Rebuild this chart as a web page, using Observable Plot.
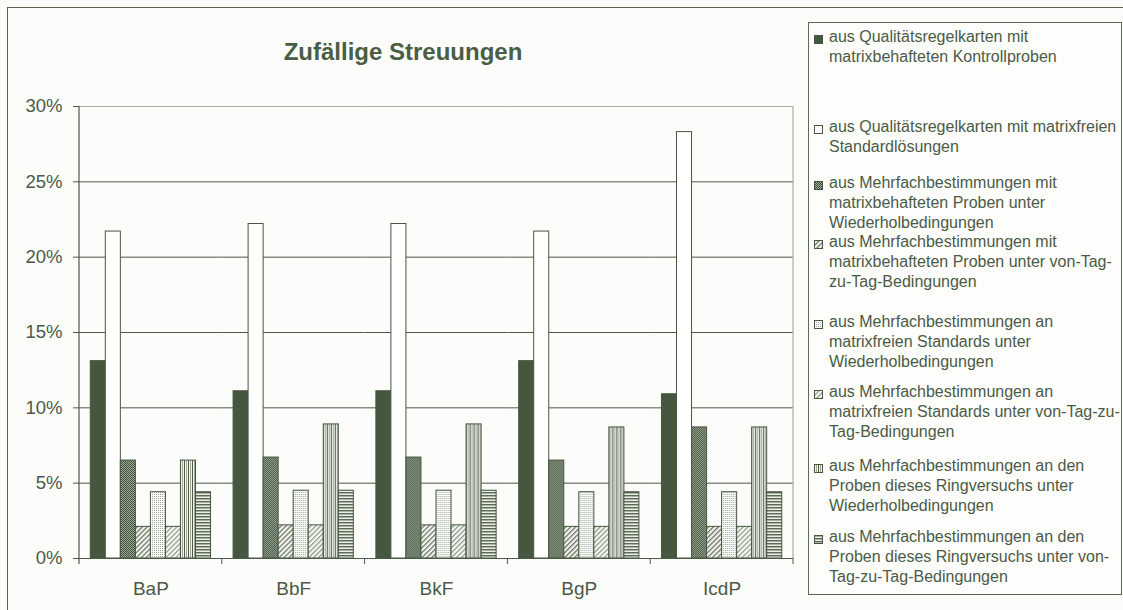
<!DOCTYPE html>
<html><head><meta charset="utf-8">
<script src="https://cdn.jsdelivr.net/npm/d3@7"></script>
<script src="https://cdn.jsdelivr.net/npm/@observablehq/plot@0.6"></script>
<style>
body{margin:0;background:#fcfcfa;font-family:"Liberation Sans",Arial,sans-serif;color:#4b5a47}
#wrap{position:relative;width:1123px;height:610px;overflow:hidden;background:#fcfcfa}
#frame{position:absolute;left:7px;top:7px;width:1200px;height:700px;border:1px solid #56654f;box-sizing:border-box}
#title{position:absolute;left:0;width:806px;top:37px;line-height:30px;text-align:center;font-weight:bold;font-size:24px;color:#4a5d45}
#legend{position:absolute;left:808px;top:22px;width:314px;height:573px;border:1px solid #5a6a55;box-sizing:border-box;background:#fdfdfb}
.entry{position:absolute;left:5px;font-size:16px;line-height:20px;white-space:nowrap;color:#4b5a47}
.entry svg{position:absolute;left:0;top:8px}
.entry .txt{position:absolute;left:15px;top:0}
#plot{position:absolute;left:0;top:0}
</style></head>
<body>
<svg width="0" height="0" style="position:absolute">
  <defs>
    <pattern id="pat2" width="2" height="2" patternUnits="userSpaceOnUse">
      <rect width="2" height="2" fill="#a3ac9d"/><rect width="1" height="1" fill="#3e4f39"/><rect x="1" y="1" width="1" height="1" fill="#3e4f39"/>
    </pattern>
    <pattern id="pat3" width="3.5" height="4" patternUnits="userSpaceOnUse" patternTransform="rotate(45)">
      <rect width="3.5" height="4" fill="#f4f5f1"/><rect width="1.3" height="4" fill="#6a7864"/>
    </pattern>
    <pattern id="pat4" width="2" height="2" patternUnits="userSpaceOnUse">
      <rect width="2" height="2" fill="#fbfbf9"/><rect width="1" height="1" fill="#a0a89a"/>
    </pattern>
    <pattern id="pat5" width="3.5" height="4" patternUnits="userSpaceOnUse" patternTransform="rotate(45)">
      <rect width="3.5" height="4" fill="#f7f8f5"/><rect width="1.2" height="4" fill="#8a9684"/>
    </pattern>
    <pattern id="pat6" width="4" height="4" patternUnits="userSpaceOnUse">
      <rect width="4" height="4" fill="#f2f3ef"/><rect width="1" height="4" fill="#4d5d48"/><rect x="2" width="1" height="4" fill="#a0a89a"/>
    </pattern>
    <pattern id="pat7" width="4" height="3" patternUnits="userSpaceOnUse">
      <rect width="4" height="3" fill="#eceee8"/><rect width="4" height="1" fill="#5c6b56"/><rect y="1" width="4" height="1" fill="#aab1a4"/>
    </pattern>
  </defs>
</svg>
<div id="wrap">
  <div id="frame"></div>
  <div id="title">Zufällige Streuungen</div>
  <div id="plot"></div>
  <div id="legend"></div>
</div>
<script>
// ---- data ----
const categories = ["BaP", "BbF", "BkF", "BgP", "IcdP"];
const seriesKeys = ["s1", "s2", "s3", "s4", "s5", "s6", "s7", "s8"];
const seriesLabels = [
  ["aus Qualitätsregelkarten mit", "matrixbehafteten Kontrollproben"],
  ["aus Qualitätsregelkarten mit matrixfreien", "Standardlösungen"],
  ["aus Mehrfachbestimmungen mit", "matrixbehafteten Proben unter", "Wiederholbedingungen"],
  ["aus Mehrfachbestimmungen mit", "matrixbehafteten Proben unter von-Tag-", "zu-Tag-Bedingungen"],
  ["aus Mehrfachbestimmungen an", "matrixfreien Standards unter", "Wiederholbedingungen"],
  ["aus Mehrfachbestimmungen an", "matrixfreien Standards unter von-Tag-zu-", "Tag-Bedingungen"],
  ["aus Mehrfachbestimmungen an den", "Proben dieses Ringversuchs unter", "Wiederholbedingungen"],
  ["aus Mehrfachbestimmungen an den", "Proben dieses Ringversuchs unter von-", "Tag-zu-Tag-Bedingungen"]
];
const s1 = [13.1, 11.1, 11.1, 13.1, 10.9];
const s2 = [21.7, 22.2, 22.2, 21.7, 28.3];
const s3 = [6.5, 6.7, 6.7, 6.5, 8.7];
const s4 = [2.1, 2.2, 2.2, 2.1, 2.1];
const s5 = [4.4, 4.5, 4.5, 4.4, 4.4];
const s6 = [2.1, 2.2, 2.2, 2.1, 2.1];
const s7 = [6.5, 8.9, 8.9, 8.7, 8.7];
const s8 = [4.4, 4.5, 4.5, 4.4, 4.4];
const yTicks = [0, 5, 10, 15, 20, 25, 30];

// ---- styles ----
const seriesValues = [s1, s2, s3, s4, s5, s6, s7, s8];
const fills = ["#46573f", "#ffffff", "url(#pat2)", "url(#pat3)", "url(#pat4)", "url(#pat5)", "url(#pat6)", "url(#pat7)"];
const ink = "#4b5a47";
const barStroke = "#46573f";
const light = "#a9ad98";
const legendTops = [37, 127, 183, 242, 322, 392, 466, 537];

const data = categories.flatMap((c, i) => seriesKeys.map((k, j) => ({cat: c, ser: k, value: seriesValues[j][i]})));

const plot = Plot.plot({
  width: 800, height: 605,
  marginLeft: 79, marginRight: 7, marginTop: 106, marginBottom: 47,
  style: {background: "transparent", fontFamily: "'Liberation Sans', Arial, sans-serif", color: ink, overflow: "visible"},
  fx: {domain: categories, padding: 0, round: false, label: null, axis: null},
  x: {domain: seriesKeys, paddingInner: 0, paddingOuter: 0.75, round: false, axis: null},
  y: {domain: [0, 30], label: null, axis: null},
  marks: [
    Plot.ruleY(yTicks.filter(t => t > 0 && t < 30), {stroke: ink, strokeWidth: 1}),
    Plot.ruleY([30], {stroke: light, strokeWidth: 1.2}),
    ...seriesKeys.map((k, j) => Plot.barY(data.filter(d => d.ser === k), {
      fx: "cat", x: "ser", y: "value", fill: fills[j], stroke: barStroke, strokeWidth: 1, inset: 0
    })),
    Plot.ruleY([0], {stroke: ink, strokeWidth: 1.2}),
    Plot.axisY(yTicks, {anchor: "left", tickSize: 6, tickPadding: 11, tickFormat: d => d + "%", fontSize: 18.5, label: null, stroke: ink}),
    Plot.axisFx({anchor: "bottom", tickSize: 0, tickPadding: 23, fontSize: 19, label: null})
  ]
});
document.getElementById("plot").appendChild(plot);

// frame lines and category separator ticks from the library's scales
const fx = plot.scale("fx");
const y = plot.scale("y");
const svg = d3.select(plot);
const y0 = y.apply(0), yTop = y.apply(30);
const edges = categories.map(c => fx.apply(c));
const xEnd = fx.apply(categories[categories.length - 1]) + fx.bandwidth;
edges.push(xEnd);
const g = svg.append("g");
g.append("line").attr("x1", xEnd).attr("x2", xEnd).attr("y1", yTop).attr("y2", y0).attr("stroke", light).attr("stroke-width", 1.2);
g.append("line").attr("x1", edges[0]).attr("x2", edges[0]).attr("y1", yTop).attr("y2", y0 + 6).attr("stroke", ink).attr("stroke-width", 1.2);
g.selectAll("line.sep").data(edges.slice(1)).join("line").attr("class", "sep")
  .attr("x1", d => d).attr("x2", d => d).attr("y1", y0).attr("y2", y0 + 6).attr("stroke", ink).attr("stroke-width", 1);

// legend
const legend = d3.select("#legend");
seriesLabels.forEach((lines, j) => {
  const e = legend.append("div").attr("class", "entry").style("top", (legendTops[j] - 10 - 23) + "px");
  const sw = e.append("svg").attr("width", 9).attr("height", 9);
  sw.append("rect").attr("x", 0.5).attr("y", 0.5).attr("width", 8).attr("height", 8)
    .attr("fill", fills[j]).attr("stroke", barStroke).attr("stroke-width", 1);
  const t = e.append("div").attr("class", "txt");
  lines.forEach(l => t.append("div").text(l));
});
</script>
</body></html>
